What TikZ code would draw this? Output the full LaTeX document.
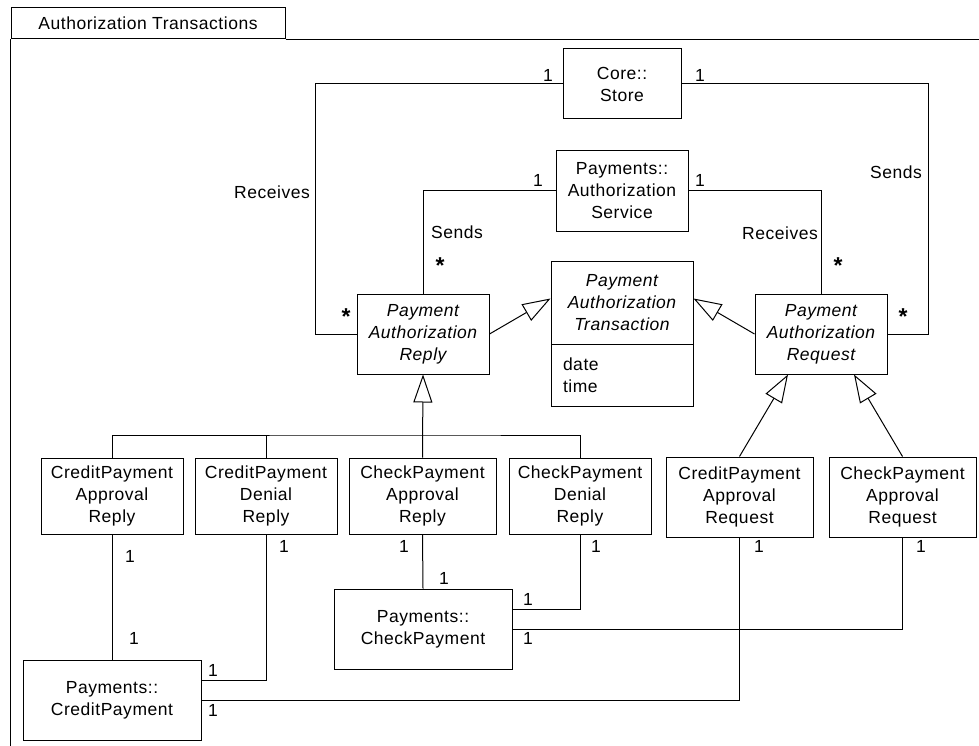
\documentclass[tikz,border=0pt]{standalone}
\usepackage{fontspec}
\setmainfont{Liberation Sans}[LetterSpace=3]
\usepackage{tikz}
\usetikzlibrary{positioning,arrows.meta,calc}

\begin{document}
\begin{tikzpicture}[x=1pt, y=-1pt, line width=1pt,
        every node/.style={font=\fontsize{17.5}{22}\selectfont},
        cls/.style={draw, inner sep=0pt, align=center},
        abs/.style={cls, font=\fontsize{17.5}{22}\selectfont\itshape},
        mult/.style={inner sep=0pt},
        star/.style={inner sep=0pt, font=\fontsize{23}{22}\selectfont\bfseries},
        gen/.style={-{Triangle[open, length=28pt, width=19pt]}},
      ]
        \useasboundingbox (0,0) rectangle (979,746);

        % Package frame with tab
        \node[draw, minimum width=274pt, minimum height=31pt, inner sep=0pt] (tab) at (148,23.5) {Authorization Transactions};
        \draw (tab.south east) -- ++(700,0);
        \draw (tab.south west) -- ++(0,720);

        % Top classes
        \node[cls, minimum width=118pt, minimum height=70pt] (store) at (622,84) {Core::\\Store};
        \node[cls, minimum width=132pt, minimum height=80pt] (service) at (622,191) {Payments::\\Authorization\\Service};

        % Abstract transactions
        \node[abs, minimum width=132pt, minimum height=80pt] (reply) at (423,334) {Payment\\Authorization\\Reply};
        \node[abs, minimum width=132pt, minimum height=80pt] (request) at (821,334) {Payment\\Authorization\\Request};
        \node[abs, minimum width=142pt, minimum height=83pt] (trans) at (622,302.5) {Payment\\Authorization\\Transaction};
        \node[cls, minimum width=142pt, minimum height=62pt, text width=118pt, align=left] (attrs) at (622,375) {date\\time};

        % Concrete replies and requests
        \node[cls, minimum width=142pt, minimum height=76pt] (crappr) at (112,496) {CreditPayment\\Approval\\Reply};
        \node[cls, minimum width=142pt, minimum height=76pt] (crden) at (266,496) {CreditPayment\\Denial\\Reply};
        \node[cls, minimum width=147pt, minimum height=76pt] (chkappr) at (422.5,496) {CheckPayment\\Approval\\Reply};
        \node[cls, minimum width=142pt, minimum height=76pt] (chkden) at (580,496) {CheckPayment\\Denial\\Reply};
        \node[cls, minimum width=147pt, minimum height=80pt] (crreq) at (739.5,497) {CreditPayment\\Approval\\Request};
        \node[cls, minimum width=147pt, minimum height=80pt] (chkreq) at (902.5,497) {CheckPayment\\Approval\\Request};

        % Payment classes
        \node[cls, minimum width=178pt, minimum height=80pt] (check) at (423,629) {Payments::\\CheckPayment};
        \node[cls, minimum width=178pt, minimum height=80pt] (credit) at (112,700) {Payments::\\CreditPayment};

        % Associations with the store and the service
        \draw (store.west) -| ([xshift=-41pt]reply.west) -- (reply.west);
        \draw (store.east) -| ([xshift=41pt]request.east) -- (request.east);
        \draw (service.west) -| (reply.north);
        \draw (service.east) -| (request.north);
        \node[mult] (m1) at (548,75) {1};
        \node[mult] (m2) at (700,75) {1};
        \node[mult] (m3) at (538,180) {1};
        \node[mult] (m4) at (700,180) {1};
        \node (recvl) at (272,192) {Receives};
        \node (sendr) at (896,172) {Sends};
        \node (sendl) at (457,232) {Sends};
        \node (recvr) at (780,233) {Receives};
        \node[star] (s1) at (440,266) {*};
        \node[star] (s2) at (838,266) {*};
        \node[star] (s3) at (346,317) {*};
        \node[star] (s4) at (903,317) {*};

        % Generalizations
        \draw[gen] (reply.east) -- ([yshift=4pt]trans.west);
        \draw[gen] (request.west) -- ([yshift=4pt]trans.east);
        \draw[gen] (chkappr.north) -- (reply.south);
        \coordinate (gbar) at (423,435);
        \draw (crappr.north) |- (gbar) -| (chkden.north);
        \draw (crden.north) -- (crden.north |- gbar);
        \draw[gen] (crreq.north) -- ([xshift=-33pt]request.south);
        \draw[gen] (chkreq.north) -- ([xshift=33pt]request.south);

        % Associations with the payments
        \draw (crappr.south) -- (credit.north);
        \draw (crden.south) |- ([yshift=20pt]credit.east);
        \draw (crreq.south) |- (credit.east);
        \draw (chkappr.south) -- (check.north);
        \draw (chkden.south) |- ([yshift=20pt]check.east);
        \draw (chkreq.south) |- (check.east);
        \node[mult] (m5) at (130,556) {1};
        \node[mult] (m6) at (134,638) {1};
        \node[mult] (m7) at (284,546) {1};
        \node[mult] (m8) at (213,670) {1};
        \node[mult] (m9) at (404,546) {1};
        \node[mult] (m10) at (444,578) {1};
        \node[mult] (m11) at (596,546) {1};
        \node[mult] (m12) at (528,599) {1};
        \node[mult] (m13) at (921,546) {1};
        \node[mult] (m14) at (528,638) {1};
        \node[mult] (m15) at (759,546) {1};
        \node[mult] (m16) at (213,710) {1};
      \end{tikzpicture}
\end{document}
